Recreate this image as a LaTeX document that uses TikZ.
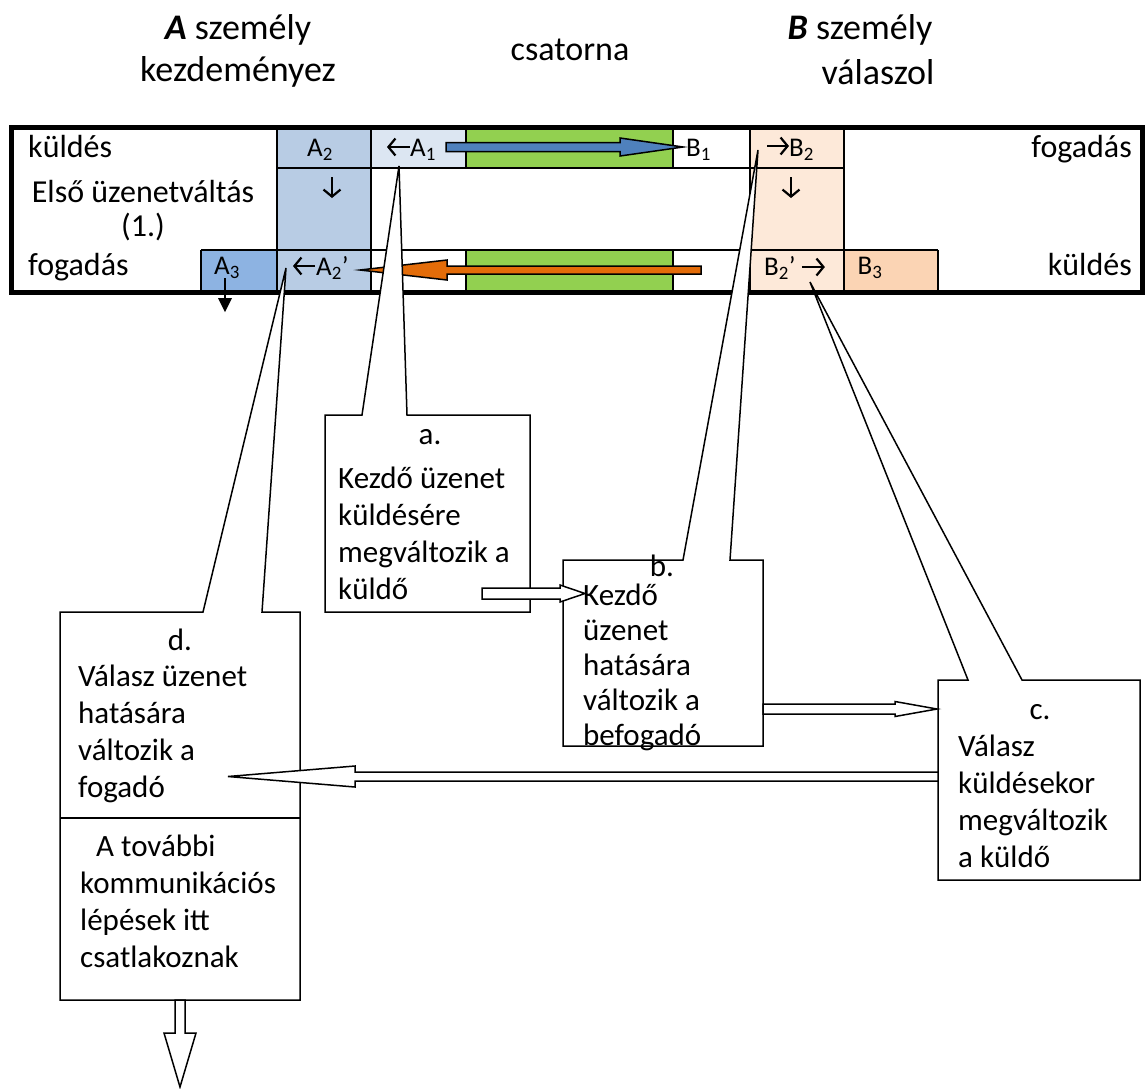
\documentclass[tikz,border=0pt]{standalone}
\usepackage{fontspec}
\setmainfont{Carlito}
\usetikzlibrary{arrows.meta}
\definecolor{colA}{HTML}{B8CCE4}
\definecolor{colAone}{HTML}{DCE6F2}
\definecolor{colAthree}{HTML}{8DB3E2}
\definecolor{colGreen}{HTML}{92D050}
\definecolor{colB}{HTML}{FDE9D9}
\definecolor{colBthree}{HTML}{FBD4B4}
\definecolor{colBlue}{HTML}{4F81BD}
\definecolor{colOrange}{HTML}{E36C09}
\begin{document}
\begin{tikzpicture}[x=1pt,y=-1pt,
  cell/.style={draw=black,line width=1.5pt},
  celltxt/.style={inner sep=0pt,font=\fontsize{27}{32}\selectfont},
  cellarrow/.style={line width=2.2pt,-{Straight Barb[length=7pt,width=17pt]}},
  rowtxt/.style={inner sep=0pt,font=\fontsize{32}{37}\selectfont,text height=22pt,text depth=7pt},
  titletxt/.style={inner sep=0pt,font=\fontsize{36}{42}\selectfont},
  boxtxt/.style={inner sep=0pt,align=left,font=\fontsize{31}{37}\selectfont},
  callout/.style={draw=black,fill=white,line width=1.5pt,line join=miter},
  block/.style={draw=black,fill=white,line width=1.5pt,line join=miter},
  tablearrow/.style={draw=black,line width=1.5pt,line join=miter}
]
\useasboundingbox (0,0) rectangle (1145,1088);
% titles
\node[titletxt] (tA1) at (238,30) {\textbf{\textit{A}} személy};
\node[titletxt] (tA2) at (238,72) {kezdeményez};
\node[titletxt,font=\fontsize{34}{40}\selectfont] (tC) at (570,50) {csatorna};
\node[titletxt] (tB1) at (860,30) {\textbf{\textit{B}} személy};
\node[titletxt] (tB2) at (878,72) {válaszol};
% cells
\fill[colA] (277,129) rectangle (371,290);
\fill[colAone] (371,129) rectangle (466,168);
\fill[colGreen] (466,129) rectangle (673,168);
\fill[colGreen] (466,250) rectangle (673,290);
\fill[colB] (750,129) rectangle (844,290);
\fill[colBthree] (844,250) rectangle (938,290);
\fill[colAthree] (201,250) rectangle (277,290);
\draw[cell] (277,168) -- (844,168);
\draw[cell] (201,250) -- (938,250);
\draw[cell] (277,129) -- (277,290);
\draw[cell] (371,129) -- (371,290);
\draw[cell] (466,129) -- (466,168) (466,250) -- (466,290);
\draw[cell] (673,129) -- (673,168) (673,250) -- (673,290);
\draw[cell] (750,129) -- (750,290);
\draw[cell] (844,129) -- (844,290);
\draw[cell] (938,250) -- (938,290);
\draw[cell] (201,250) -- (201,290);
% frame
\draw[line width=5pt] (11,127) rectangle (1142,292);
% row texts
\node[rowtxt,anchor=west] (kL) at (28,150) {küldés};
\node[rowtxt] (elso) at (143,195) {Első üzenetváltás};
\node[rowtxt] (egy) at (143,229) {(1.)};
\node[rowtxt,anchor=west] (fL) at (28,268) {fogadás};
\node[rowtxt,anchor=east] (fR) at (1132,150) {fogadás};
\node[rowtxt,anchor=east] (kR) at (1132,268) {küldés};
% cell texts
\node[celltxt] (A2) at (320,150) {A\textsubscript{2}};
\node[celltxt,anchor=west] (A1) at (410,150) {A\textsubscript{1}};
\node[celltxt,anchor=west] (B1) at (686,150) {B\textsubscript{1}};
\node[celltxt,anchor=west] (B2) at (789,150) {B\textsubscript{2}};
\node[celltxt] (A3) at (227,268) {A\textsubscript{3}};
\node[celltxt,anchor=west] (A2p) at (316,268) {A\textsubscript{2}’};
\node[celltxt,anchor=west] (B2p) at (764,268) {B\textsubscript{2}’};
\node[celltxt] (B3) at (870,268) {B\textsubscript{3}};
% small arrows inside cells
\draw[cellarrow] (A1.west) ++(0,-3) -- ++(-23,0);
\draw[cellarrow] (A2p.west) ++(-1,-2) -- ++(-22,0);
\draw[cellarrow] (B2.west) ++(-22,-4) -- ++(22,0);
\draw[cellarrow] (B2p.east) ++(6,-1) -- ++(23,0);
\coordinate (dAs) at (332,177);
\coordinate (dBs) at (791,177);
\draw[cellarrow] (dAs) -- ++(0,21);
\draw[cellarrow] (dBs) -- ++(0,21);
% channel arrows
\draw[tablearrow,fill=colBlue] (446,142.5) -- (620,142.5) -- (620,138) -- (683,147) -- (620,156) -- (620,151.5) -- (446,151.5) -- cycle;
\draw[tablearrow,fill=colOrange] (701,266) -- (447,266) -- (447,260) -- (360,270) -- (447,280) -- (447,274) -- (701,274) -- cycle;
% A3 down arrow
\coordinate (a3s) at (225,278);
\coordinate (a3e) at (225,312);
\draw[line width=1.5pt] (a3s) -- (225,299);
\fill (218,298) -- (232,298) -- (a3e) -- cycle;
% callouts
\draw[callout] (325,415) -- (362,415) -- (399,166) -- (407,415) -- (530,415) -- (530,612) -- (325,612) -- cycle;
\draw[callout] (563,560) -- (683,560) -- (758,150) -- (730,560) -- (763,560) -- (763,746) -- (563,746) -- cycle;
\draw[callout] (938,680) -- (968,680) -- (810,282) -- (1022,680) -- (1140,680) -- (1140,880) -- (938,880) -- cycle;
\draw[callout] (60,612) -- (203,612) -- (286,268) -- (262,612) -- (300,612) -- (300,1000) -- (60,1000) -- cycle;
\draw[line width=1.5pt] (60,818) -- (300,818);
% box texts
\node[boxtxt] (la) at (430,437) {a.};
\node[boxtxt,anchor=north west] (ta) at (338,467) {Kezdő üzenet\\küldésére\\megváltozik a\\küldő};
\node[boxtxt] (lb) at (662,566) {b.};
\node[boxtxt,anchor=north west,font=\fontsize{31}{35}\selectfont] (tb) at (583,584) {Kezdő\\üzenet\\hatására\\változik a\\befogadó};
\node[boxtxt] (lc) at (1040,712) {c.};
\node[boxtxt,anchor=north west] (tc) at (958,735) {Válasz\\küldésekor\\megváltozik\\a küldő};
\node[boxtxt] (ld) at (180,640) {d.};
\node[boxtxt,anchor=north west] (td) at (78,665) {Válasz üzenet\\hatására\\változik a\\fogadó};
\node[boxtxt,anchor=north west] (te) at (80,835) {\hspace{16pt}A további\\kommunikációs\\lépések itt\\csatlakoznak};
% block arrows
\draw[block] (482,588) -- (560,588) -- (560,585) -- (585,593.5) -- (560,602) -- (560,599) -- (482,599) -- cycle;
\draw[block] (763,704) -- (895,704) -- (895,701.5) -- (937,709) -- (895,716.5) -- (895,714) -- (763,714) -- cycle;
\draw[block] (938,772) -- (355,772) -- (355,766) -- (228,776.5) -- (355,787) -- (355,781) -- (938,781) -- cycle;
\draw[block] (175,1000) -- (175,1033) -- (164,1033) -- (180,1087) -- (196,1033) -- (185,1033) -- (185,1000) -- cycle;
\end{tikzpicture}
\end{document}
